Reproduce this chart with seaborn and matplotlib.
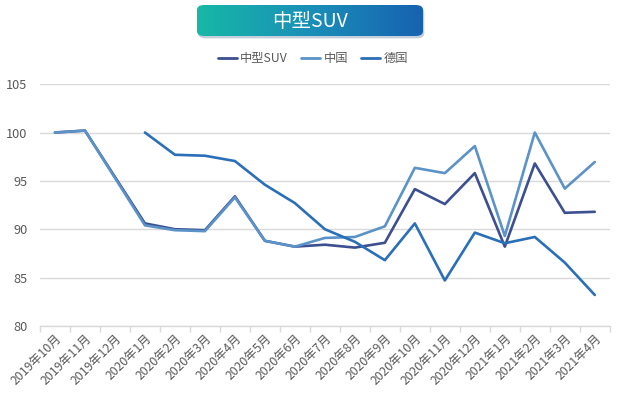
import numpy as np
import pandas as pd
import matplotlib
matplotlib.use("Agg")
import matplotlib.pyplot as plt
import seaborn as sns
from matplotlib.patches import FancyBboxPatch
from matplotlib.colors import LinearSegmentedColormap

months = ["2019年10月", "2019年11月", "2019年12月", "2020年1月", "2020年2月", "2020年3月",
          "2020年4月", "2020年5月", "2020年6月", "2020年7月", "2020年8月", "2020年9月",
          "2020年10月", "2020年11月", "2020年12月", "2021年1月", "2021年2月", "2021年3月",
          "2021年4月"]
suv = [100.0, 100.2, 95.4, 90.6, 90.0, 89.9, 93.4, 88.8, 88.2, 88.4, 88.1, 88.6,
       94.15, 92.6, 95.8, 88.2, 96.8, 91.7, 91.8]
china = [100.0, 100.2, 95.3, 90.4, 89.9, 89.8, 93.3, 88.8, 88.2, 89.1, 89.2, 90.3,
         96.35, 95.8, 98.6, 89.3, 100.0, 94.2, 96.95]
germany = [np.nan, np.nan, np.nan, 100.0, 97.7, 97.6, 97.05, 94.6, 92.7, 90.0, 88.7, 86.8,
           90.6, 84.7, 89.65, 88.55, 89.2, 86.55, 83.2]
series_names = ["中型SUV", "中国", "德国"]
title = "中型SUV"
colors = ["#3B4F91", "#5B93C8", "#2A6FB7"]

df = pd.DataFrame({"月份": months * 3,
                   "值": suv + china + germany,
                   "系列": [series_names[0]] * len(months) + [series_names[1]] * len(months)
                           + [series_names[2]] * len(months)})

sns.set_theme(style="white")
plt.rcParams['font.family'] = ['Noto Sans CJK SC', 'DejaVu Sans']

fig = plt.figure(figsize=(6.2, 3.97), dpi=100)
ax = fig.add_axes([0.0645, 0.179, 0.919, 0.609])

sns.lineplot(data=df, x="月份", y="值", hue="系列", hue_order=series_names,
             palette=colors, linewidth=1.9, sort=False, ax=ax, legend=True)

ax.set_xlim(-0.5, len(months) - 0.5)
ax.set_ylim(80, 105)
ax.set_yticks([80, 85, 90, 95, 100, 105])
ax.yaxis.grid(True, color="#D9D9D9", linewidth=1.0)
ax.set_axisbelow(True)
for s in ["top", "right", "left"]:
    ax.spines[s].set_visible(False)
ax.spines["bottom"].set_color("#D9D9D9")
ax.spines["bottom"].set_linewidth(1.0)
ax.set_xlabel("")
ax.set_ylabel("")
ax.set_xticks(range(len(months)))
ax.set_xticklabels(months, rotation=45, ha="right", rotation_mode="anchor",
                   fontsize=8.8, color="#595959")
ax.set_xticks(np.arange(-0.5, len(months), 1.0), minor=True)
ax.tick_params(axis="x", which="major", length=0, pad=4)
ax.tick_params(axis="x", which="minor", length=4, color="#D9D9D9", width=1.0, bottom=True)
ax.tick_params(axis="y", length=0, labelsize=9.2, labelcolor="#595959", pad=9)

leg = ax.legend(loc="center", bbox_to_anchor=(0.505, 0.852), bbox_transform=fig.transFigure,
                ncol=3, frameon=False, fontsize=8.8, handlelength=1.5, handletextpad=0.3,
                columnspacing=1.1)
for t in leg.get_texts():
    t.set_color("#595959")
for h in leg.get_lines():
    h.set_linewidth(2.0)

# Title banner with gradient
x0, y0, w, h = 197 / 620, 1 - 36 / 397, 226 / 620, 31 / 397
shadow = FancyBboxPatch((x0 + 0.002, y0 - 0.006), w, h,
                        boxstyle="round,pad=0,rounding_size=0.012",
                        transform=fig.transFigure, facecolor="#9BB0C4", edgecolor="none",
                        alpha=0.6, zorder=1)
fig.patches.append(shadow)
bax = fig.add_axes([x0, y0, w, h], zorder=3)
bax.set_axis_off()
grad = np.linspace(0, 1, 256).reshape(1, -1)
cmap = LinearSegmentedColormap.from_list("banner", ["#17B8A6", "#1A8FB8", "#1762B0"])
im = bax.imshow(grad, aspect="auto", cmap=cmap, extent=[0, 1, 0, 1],
                transform=bax.transAxes)
clip = FancyBboxPatch((x0, y0), w, h, boxstyle="round,pad=0,rounding_size=0.012",
                      transform=fig.transFigure, facecolor="none", edgecolor="none")
im.set_clip_path(clip)
bax.text(0.5, 0.48, title, transform=bax.transAxes, ha="center", va="center",
         color="white", fontsize=14)

fig.savefig("out.png", dpi=100)
